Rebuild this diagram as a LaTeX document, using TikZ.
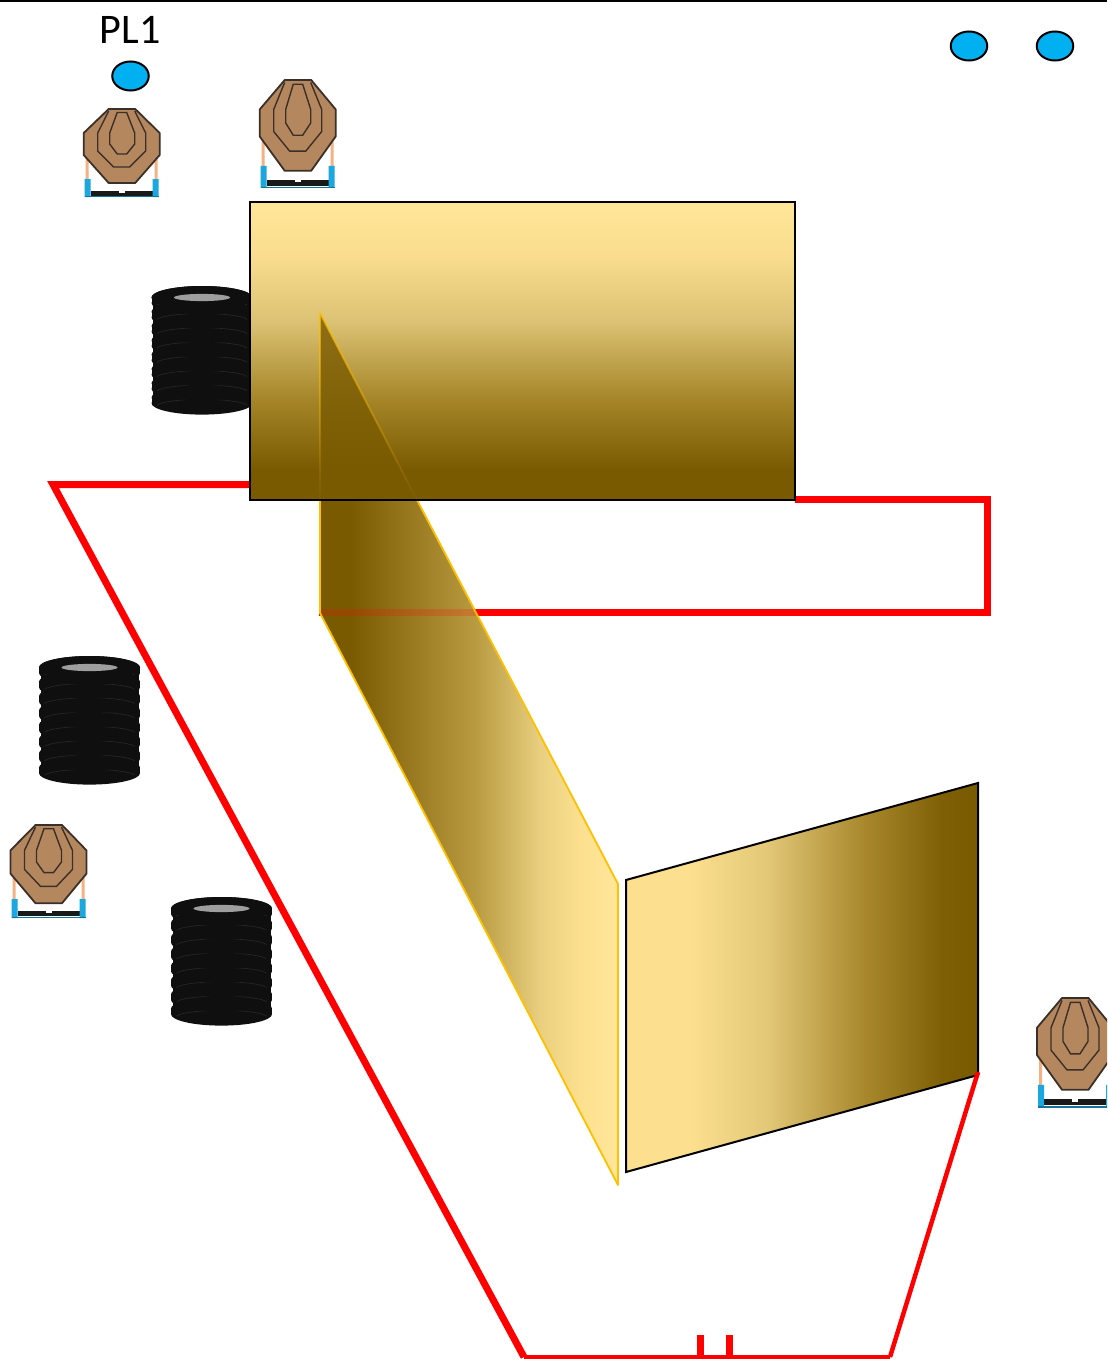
\documentclass[tikz,border=0pt]{standalone}
\usepackage{fontspec}
\setmainfont{Carlito}
\usetikzlibrary{calc,shapes.geometric}
\definecolor{goldD}{HTML}{7A5A00}
\definecolor{goldA}{HTML}{A58528}
\definecolor{goldB}{HTML}{DCC274}
\definecolor{goldC}{HTML}{FADD8E}
\definecolor{goldL}{HTML}{FFE699}
\definecolor{goldP}{HTML}{B89A40}
\definecolor{goldQ}{HTML}{E9CF7F}
\definecolor{goldR}{HTML}{FCE08F}
\definecolor{goldS}{HTML}{E3C878}
\definecolor{goldT}{HTML}{A8872C}
\definecolor{goldU}{HTML}{7F5F05}
\definecolor{playerblue}{HTML}{00B0F0}
\definecolor{targetfill}{HTML}{B5875F}
\definecolor{targetline}{HTML}{3A3028}
\definecolor{standblue}{HTML}{1CA7DF}
\definecolor{standtan}{HTML}{F4B183}
\definecolor{tire}{HTML}{0F0F0F}
\definecolor{tireline}{HTML}{2A2424}
\definecolor{paraEdge}{HTML}{FFC000}
\pgfdeclareverticalshading{boxgold}{100bp}{
 color(0bp)=(goldD); color(30bp)=(goldD);
 color(41.8bp)=(goldA);
 color(55bp)=(goldB);
 color(66bp)=(goldC);
 color(75bp)=(goldL); color(100bp)=(goldL)}
\pgfdeclarehorizontalshading{paragold}{100bp}{
 color(0bp)=(goldD); color(30bp)=(goldD);
 color(51bp)=(goldP);
 color(62bp)=(goldQ);
 color(68.6bp)=(goldR);
 color(75bp)=(goldL); color(100bp)=(goldL)}
\pgfdeclarehorizontalshading{quadgold}{100bp}{
 color(0bp)=(goldR); color(34bp)=(goldR);
 color(45bp)=(goldS);
 color(59bp)=(goldT);
 color(70bp)=(goldU);
 color(75bp)=(goldD); color(100bp)=(goldD)}
\tikzset{
 px/.style={line width=#1*0.75pt},
 redline/.style={draw=red,px=#1,line join=miter,line cap=butt},
 player/.style={ellipse,draw=black,fill=playerblue,px=2,minimum width=36.5*0.75pt,minimum height=29*0.75pt,inner sep=0pt},
 target/.pic={
  \fill[standtan] (-36,50) rectangle (-33,72) (33,50) rectangle (36,72);
  \fill[black!90] (-31,81.5) rectangle (31,86.5);
  \fill[white] (-3,81.5) rectangle (3,83.5);
  \fill[standblue] (-37,70) rectangle (-31,88) (31,70) rectangle (37,88);
  \fill[standblue!70!black] (-37,86.8) rectangle (37,88.4);
  \draw[targetline,fill=targetfill,px=1.8,line join=round] (-13,0)--(13.5,0)--(38,24)--(38,46)--(13.5,74)--(-13,74)--(-38,46)--(-38,24)--cycle;
  \draw[targetline,px=1.4] (-13,2)--(-24,24)--(-24,42)--(-8,58)--(8,58)--(24,42)--(24,24)--(13,2);
  \draw[targetline,px=1.4] (-4.5,3.5)--(5,3.5)--(13,24)--(13,35)--(5,45)--(-4.5,45)--(-12,35)--(-12,24)--cycle;
 },
 tires/.pic={
  \fill[tire] (-49,11.5) rectangle (49,117.5);
  \foreach \i in {7,6,...,0}{
   \fill[tire] (0,11.5+\i*14.3) ellipse[x radius=50.5,y radius=11.5];
   \fill[tire] (-50.5,11.5+\i*14.3) rectangle (50.5,17+\i*14.3);
   \fill[tire] (0,17+\i*14.3) ellipse[x radius=50.5,y radius=11.5];
   \draw[tireline,px=0.7] (-45,19+\i*14.3) arc[start angle=190,end angle=350,x radius=45.7,y radius=7];
  }
  \fill[tire] (0,11.5) ellipse[x radius=50.5,y radius=11.5];
  \fill[white!62!black] (0,11.5) ellipse[x radius=28,y radius=3.6];
 }
}
\begin{document}
\begin{tikzpicture}[x=0.75pt,y=-0.75pt]
\useasboundingbox (0,0) rectangle (1107,1360);
\fill[white] (0,0) rectangle (1107,1360);
\draw[black,px=2] (0,0.5)--(1107,0.5);

\node[font=\fontsize{27}{30}\selectfont,inner sep=0pt,xscale=1.17,yscale=1.17] (pl) at (130,29.5) {PL1};
\node[player] (p1) at (130.5,76) {};
\node[player] (p2) at (969,46) {};
\node[player] (p3) at (1055,46) {};

\pic at (121.7,109) {target};
\pic[yscale=1.227] at (297.7,80) {target};
\pic[yscale=1.057] at (48.5,825) {target};
\begin{scope}
\clip (0,0) rectangle (1107,1360);
\pic[yscale=1.24] at (1075,998) {target};
\end{scope}

\pic at (202,286) {tires};
\pic at (89.5,656) {tires};
\pic at (221.5,897) {tires};

% range boundary
\coordinate (a1) at (250,484.5);
\coordinate (a2) at (53,484.5);
\coordinate (a3) at (524,1357);
\coordinate (a4) at (890,1357);
\coordinate (a5) at (978,1072);
\coordinate (b1) at (795,499);
\coordinate (b2) at (987,499);
\coordinate (b3) at (987,612);
\coordinate (b4) at (319,612);
\coordinate (b5) at (477,612);
\draw[redline=7] (a1)--(a2)--(a3);
\draw[redline=4.5] (a3)--(a4);
\draw[redline=7] (b1)--(b2)--(b3)--(b4);
\draw[redline=7] (700,1335)--(700,1357) (729,1335)--(729,1357);

% slanted wall
\shade[shading=paragold] (320,313)--(618,884)--(618,1185)--(320,613)--cycle;
\begin{scope}
\clip (320,313)--(618,884)--(618,1185)--(320,613)--cycle;
\draw[red,px=7,opacity=0.2] (b4)--(b5);
\end{scope}
\draw[paraEdge,px=1.8,line join=round] (417,500)--(618,884)--(618,1185)--(320,613)--(320,500);

% top wall
\shade[shading=boxgold] (250,202) rectangle (795,500);
\fill[goldD,opacity=0.8] (320,313)--(417,500)--(320,500)--cycle;
\foreach \i in {0,...,19}{
 \pgfmathsetmacro{\op}{0.75*(1-\i/20)}
 \draw[paraEdge,px=1.8,opacity=\op] (320,313+\i*9.35)--(320,313+\i*9.35+9.35);
 \draw[paraEdge,px=1.8,opacity=\op] (320+\i*4.85,313+\i*9.35)--(320+\i*4.85+4.85,313+\i*9.35+9.35);
}
\draw[black,px=2] (250,202) rectangle (795,500);

% right wall
\shade[shading=quadgold] (626,880)--(978,783)--(978,1075)--(626,1172)--cycle;
\draw[black,px=2,line join=miter] (626,880)--(978,783)--(978,1075)--(626,1172)--cycle;
\draw[redline=4.5] (a4)--(a5);
\end{tikzpicture}
\end{document}
